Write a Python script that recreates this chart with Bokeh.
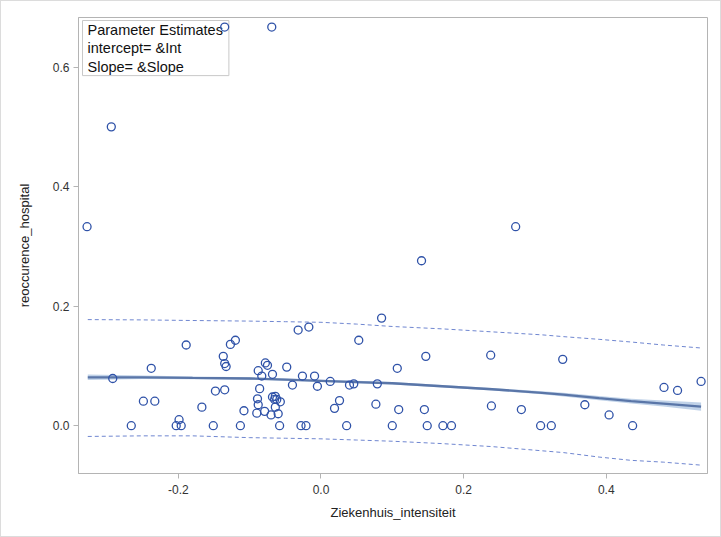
from bokeh.plotting import figure
from bokeh.models import Label, Range1d, FixedTicker, NumeralTickFormatter
from bokeh.embed import file_html
from bokeh.resources import INLINE

# Observations
x_vals = [-0.135, -0.069, -0.294, -0.328, 0.273, 0.141, 0.085, -0.032, -0.017, -0.189,
          -0.127, -0.120, 0.053, -0.137, -0.135, -0.133, 0.147, 0.238, 0.339, -0.238,
          -0.078, -0.075, -0.048, -0.088, -0.083, -0.068, 0.107, -0.292, -0.026, -0.009,
          0.013, 0.040, 0.046, 0.079, -0.040, -0.005, -0.148, -0.135, -0.086, 0.481,
          0.500, 0.533, -0.249, -0.233, -0.089, -0.068, -0.064, -0.062, -0.065, -0.057,
          0.026, 0.019, 0.077, 0.109, 0.145, 0.239, 0.281, 0.370, 0.404, -0.167,
          -0.088, -0.064, -0.108, -0.090, -0.079, -0.070, -0.060, -0.199, -0.266, -0.203,
          -0.196, -0.151, -0.113, -0.058, -0.028, -0.021, 0.036, 0.100, 0.149, 0.171,
          0.183, 0.308, 0.323, 0.437]
y_vals = [0.667, 0.667, 0.500, 0.333, 0.333, 0.276, 0.180, 0.160, 0.165, 0.135,
          0.136, 0.143, 0.143, 0.116, 0.104, 0.099, 0.116, 0.118, 0.111, 0.096,
          0.105, 0.101, 0.098, 0.092, 0.083, 0.086, 0.096, 0.079, 0.083, 0.083,
          0.074, 0.068, 0.070, 0.070, 0.068, 0.066, 0.058, 0.060, 0.062, 0.064,
          0.059, 0.074, 0.041, 0.041, 0.045, 0.048, 0.049, 0.044, 0.044, 0.040,
          0.042, 0.029, 0.036, 0.027, 0.027, 0.033, 0.027, 0.035, 0.018, 0.031,
          0.035, 0.031, 0.025, 0.021, 0.024, 0.018, 0.020, 0.010, 0.0, 0.0,
          0.0, 0.0, 0.0, 0.0, 0.0, 0.0, 0.0, 0.0, 0.0, 0.0,
          0.0, 0.0, 0.0, 0.0]

# Fitted curve, confidence band, prediction limits
fit_x = [-0.327, -0.25, -0.18, -0.1, -0.05, 0.0, 0.05, 0.1, 0.17, 0.24, 0.31, 0.34, 0.39, 0.435, 0.48, 0.533]
fit_y = [0.081, 0.081, 0.080, 0.079, 0.077, 0.075, 0.073, 0.071, 0.066, 0.061, 0.055, 0.052, 0.046, 0.041, 0.037, 0.032]
clm_lo = [0.0765, 0.078, 0.0775, 0.077, 0.075, 0.073, 0.071, 0.069, 0.064, 0.0588, 0.0525, 0.049, 0.0425, 0.037, 0.032, 0.025]
clm_hi = [0.0855, 0.084, 0.0825, 0.081, 0.079, 0.077, 0.075, 0.073, 0.068, 0.0632, 0.0575, 0.055, 0.0495, 0.045, 0.042, 0.039]
pred_hi = [0.1775, 0.177, 0.176, 0.175, 0.174, 0.173, 0.170, 0.166, 0.162, 0.157, 0.152, 0.149, 0.1445, 0.140, 0.135, 0.130]
pred_lo = [-0.018, -0.017, -0.017, -0.020, -0.021, -0.022, -0.024, -0.026, -0.030, -0.035, -0.042, -0.045, -0.0525, -0.058, -0.061, -0.066]

x_ticks = [-0.2, 0.0, 0.2, 0.4]
y_ticks = [0.0, 0.2, 0.4, 0.6]

FONT = "Liberation Sans"
AXIS_GRAY = "#b4b4b4"

p = figure(width=721, height=537, output_backend="svg", toolbar_location=None,
           x_range=Range1d(-0.340, 0.542), y_range=Range1d(-0.080, 0.683),
           min_border_left=77, min_border_right=15, min_border_top=16, min_border_bottom=65)
p.styles = {"border": "1px solid #dcdcdc", "box-sizing": "border-box"}

p.xgrid.visible = False
p.ygrid.visible = False
p.outline_line_color = AXIS_GRAY
p.outline_line_width = 1

for ax in (p.xaxis[0], p.yaxis[0]):
    ax.axis_line_color = AXIS_GRAY
    ax.major_tick_line_color = AXIS_GRAY
    ax.major_tick_out = 5
    ax.major_tick_in = 0
    ax.minor_tick_line_color = None
    ax.major_label_text_font = FONT
    ax.major_label_text_font_size = "12px"
    ax.major_label_text_color = "#333333"
    ax.axis_label_text_font = FONT
    ax.axis_label_text_font_size = "13px"
    ax.axis_label_text_font_style = "normal"
    ax.axis_label_text_color = "#222222"
    ax.formatter = NumeralTickFormatter(format="0.0")

p.xaxis.ticker = FixedTicker(ticks=x_ticks)
p.yaxis.ticker = FixedTicker(ticks=y_ticks)
p.xaxis.axis_label = "Ziekenhuis_intensiteit"
p.yaxis.axis_label = "reoccurence_hospital"
p.xaxis.axis_label_standoff = 8
p.yaxis.axis_label_standoff = 18
p.xaxis.major_label_standoff = 6
p.yaxis.major_label_standoff = 4

p.varea(x=fit_x, y1=clm_lo, y2=clm_hi, fill_color="#b9cde6", fill_alpha=0.9)
p.line(fit_x, pred_hi, line_color="#6f86d0", line_width=1, line_dash="4 3")
p.line(fit_x, pred_lo, line_color="#6f86d0", line_width=1, line_dash="4 3")
p.line(fit_x, fit_y, line_color="#5a76a8", line_width=2.3)

lab = Label(x=4, y=453, x_units="screen", y_units="screen",
            text="Parameter Estimates\nintercept= &Int\nSlope= &Slope",
            text_font=FONT, text_font_size="14.5px", text_color="#111111",
            text_line_height=1.16, anchor="top_left",
            border_line_color="#c8c8c8", border_line_width=1,
            background_fill_color="white",
            padding=dict(left=5, right=6, top=1, bottom=1))
p.add_layout(lab)

sc = p.scatter(x_vals, y_vals, marker="circle", size=8, fill_color=None,
               line_color="#2f52a8", line_width=1.3)
sc.level = "overlay"

open("out.html", "w").write(file_html(p, INLINE))
